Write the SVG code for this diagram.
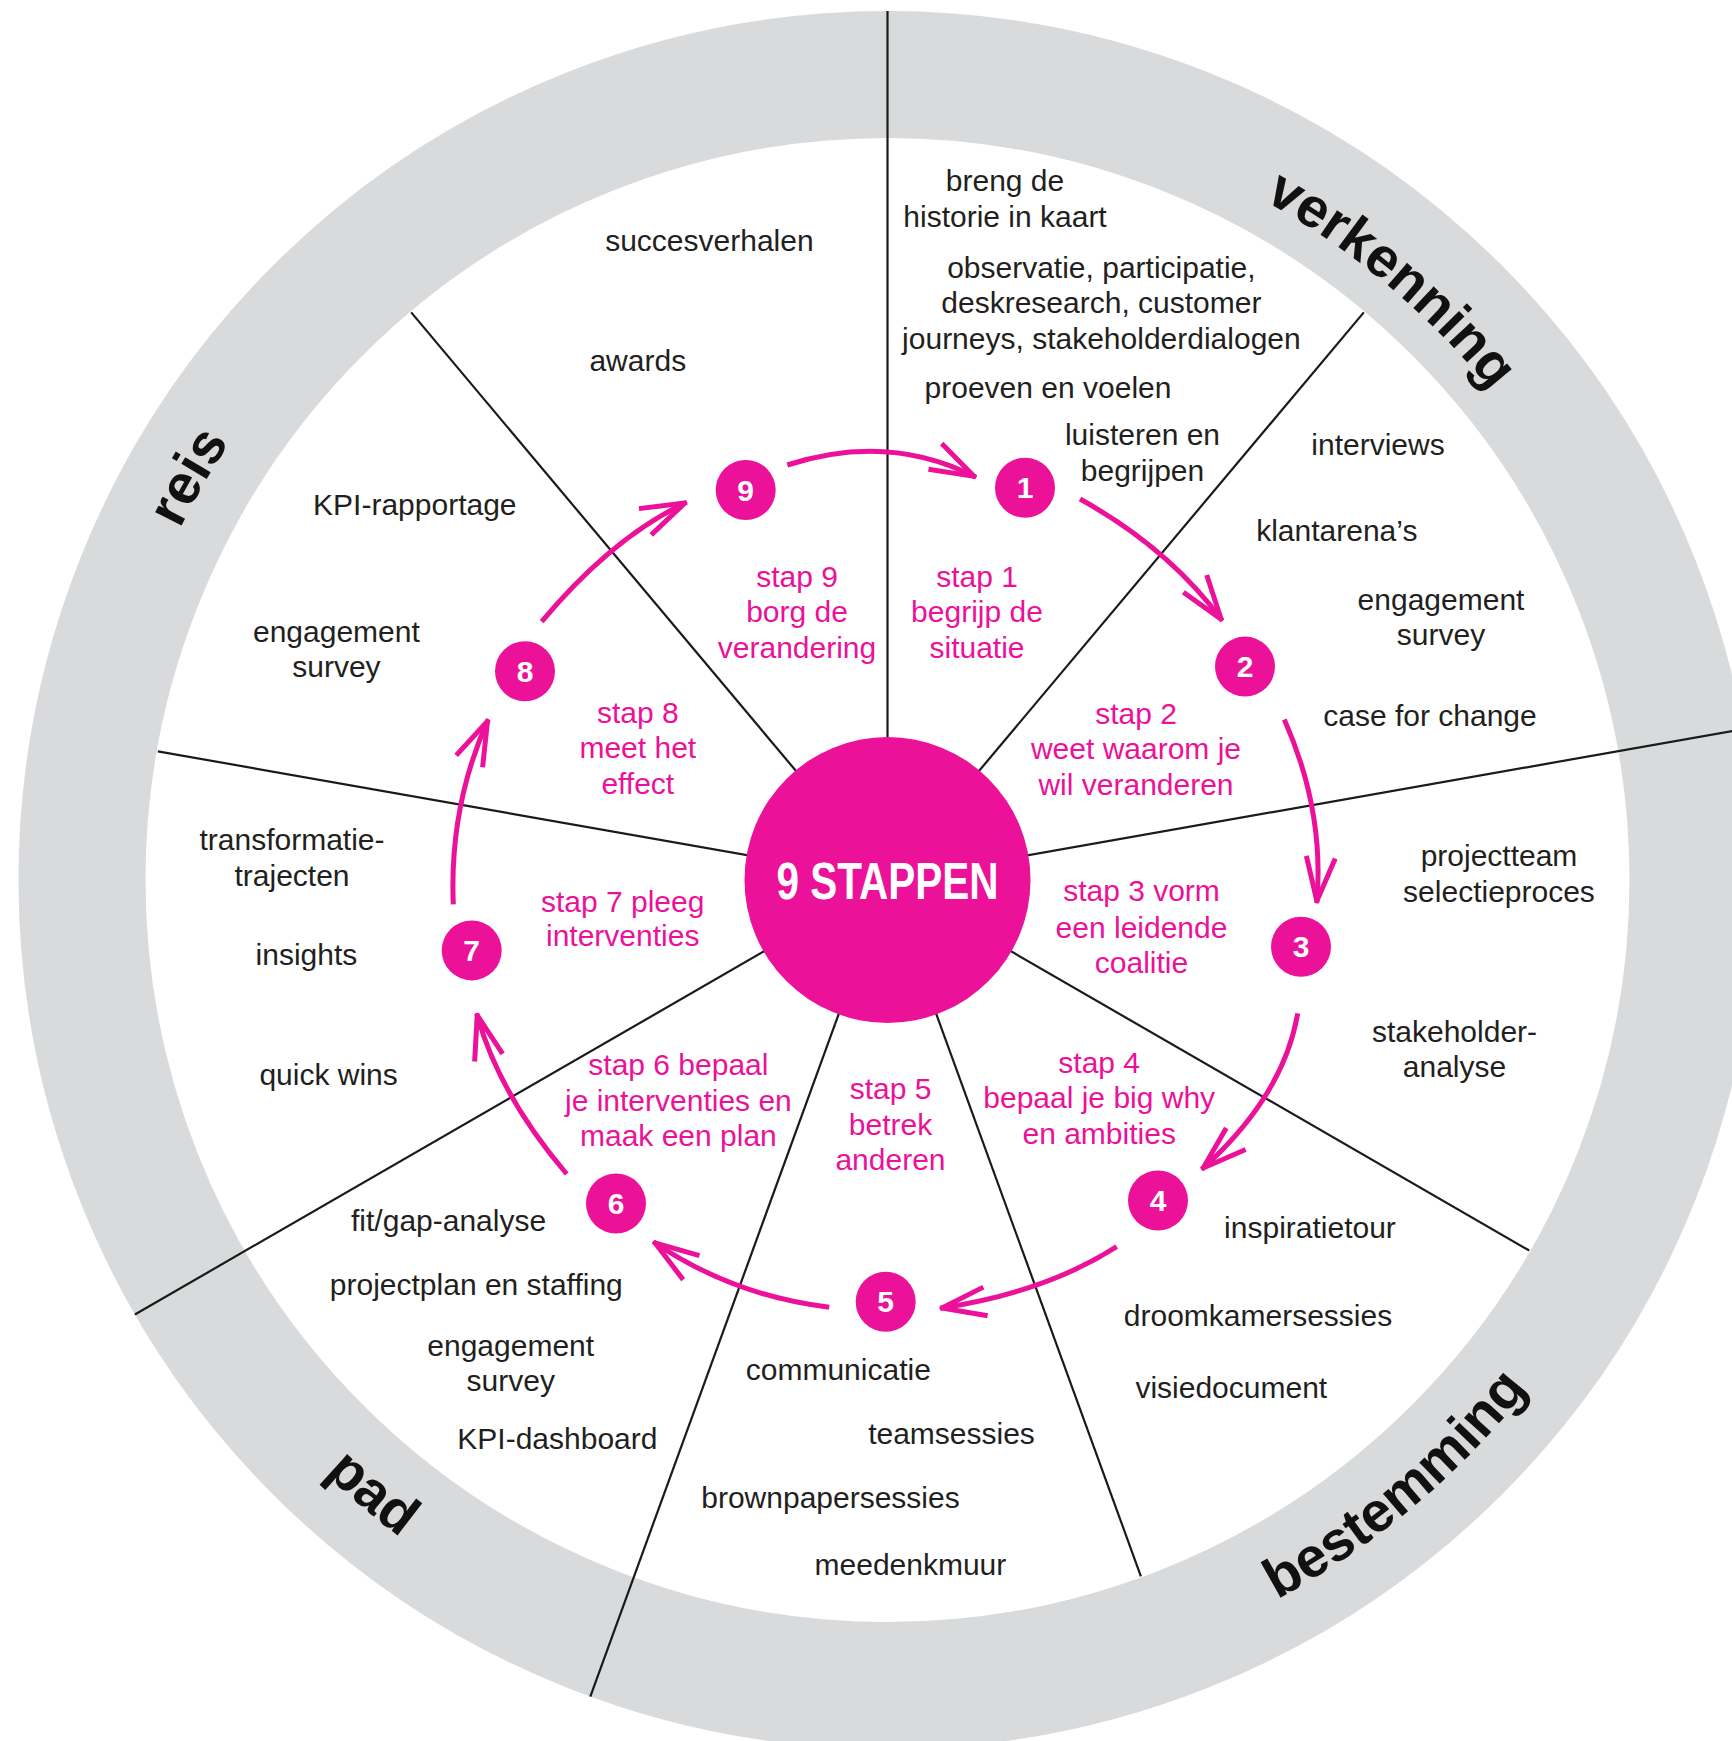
<svg xmlns="http://www.w3.org/2000/svg" width="1732" height="1741" viewBox="0 0 1732 1741">
<defs>
<style>
.t{font-family:"Liberation Sans",Arial,Helvetica,sans-serif;font-size:30px;fill:#231f20;text-anchor:middle}
.p{font-family:"Liberation Sans",Arial,Helvetica,sans-serif;font-size:30px;fill:#eb1199;text-anchor:middle}
.n{fill:#eb1199}
.d{font-family:"Liberation Sans",Arial,Helvetica,sans-serif;font-size:30px;font-weight:bold;fill:#ffffff;text-anchor:middle}
.rl{font-family:"Liberation Sans",Arial,Helvetica,sans-serif;font-size:56px;font-weight:bold;fill:#111111;text-anchor:middle}
.sp{stroke:#1a1a1a;stroke-width:2.2;fill:none}
.arr{fill:none;stroke:#eb1199;stroke-width:5;marker-end:url(#ah)}
</style>
<marker id="ah" markerUnits="userSpaceOnUse" orient="auto" markerWidth="60" markerHeight="40" viewBox="-52 -20 60 40" refX="0" refY="0" overflow="visible">
<path d="M-46,-14.5 L-2,0 L-46,14.5" fill="none" stroke="#eb1199" stroke-width="5" stroke-linejoin="round" stroke-linecap="butt"/>
</marker>
<path id="pv" d="M887.5,103 A777,777 0 0 1 1652.7,745.1"/>
<path id="pr" d="M109.5,1017.2 A790,790 0 0 1 617.3,137.6"/>
<path id="pb" d="M887.5,1698 A818,818 0 0 0 1693.1,1022"/>
<path id="pp" d="M81.9,1022 A818,818 0 0 0 887.5,1698"/>
</defs>

<rect x="0" y="0" width="1732" height="1741" fill="#ffffff"/>

<g id="ring">
<circle cx="887.5" cy="880" r="805.5" fill="none" stroke="#d9dadb" stroke-width="127"/>
</g>

<g id="spokes">
<line class="sp" x1="887.5" y1="880" x2="887.5" y2="11"/>
<line class="sp" x1="887.5" y1="880" x2="1363.8" y2="312.4"/>
<line class="sp" x1="887.5" y1="880" x2="1743.3" y2="729.1"/>
<line class="sp" x1="887.5" y1="880" x2="1529.2" y2="1250.5"/>
<line class="sp" x1="887.5" y1="880" x2="1140.9" y2="1576.3"/>
<line class="sp" x1="887.5" y1="880" x2="590.3" y2="1696.6"/>
<line class="sp" x1="887.5" y1="880" x2="134.9" y2="1314.5"/>
<line class="sp" x1="887.5" y1="880" x2="157.8" y2="751.3"/>
<line class="sp" x1="887.5" y1="880" x2="411.2" y2="312.4"/>
</g>

<g id="ring-labels">
<text class="rl"><textPath href="#pv" startOffset="50%">verkenning</textPath></text>
<text class="rl"><textPath href="#pr" startOffset="50%">reis</textPath></text>
<text class="rl"><textPath href="#pb" startOffset="50%">bestemming</textPath></text>
<text class="rl"><textPath href="#pp" startOffset="50%">pad</textPath></text>
</g>

<g id="center">
<circle class="n" cx="887.5" cy="880" r="143"/>
<text x="887.5" y="899.3" font-family="Liberation Sans, Arial, sans-serif" font-size="51" font-weight="bold" fill="#ffffff" text-anchor="middle" textLength="222" lengthAdjust="spacingAndGlyphs">9 STAPPEN</text>
</g>

<g id="activities">
<text class="t" x="1005" y="191">breng de</text>
<text class="t" x="1005" y="226.5">historie in kaart</text>
<text class="t" x="1101.4" y="277.6">observatie, participatie,</text>
<text class="t" x="1101.4" y="313">deskresearch, customer</text>
<text class="t" x="1101.4" y="348.7">journeys, stakeholderdialogen</text>
<text class="t" x="1048" y="397.5">proeven en voelen</text>
<text class="t" x="1142.5" y="445.3">luisteren en</text>
<text class="t" x="1142.5" y="480.8">begrijpen</text>
<text class="t" x="1378" y="455.3">interviews</text>
<text class="t" x="1336.8" y="540.8">klantarena’s</text>
<text class="t" x="1441" y="609.6">engagement</text>
<text class="t" x="1441" y="645">survey</text>
<text class="t" x="1430" y="726.2">case for change</text>
<text class="t" x="1499" y="866">projectteam</text>
<text class="t" x="1499" y="901.6">selectieproces</text>
<text class="t" x="1454.5" y="1041.6">stakeholder-</text>
<text class="t" x="1454.5" y="1077">analyse</text>
<text class="t" x="1310" y="1238">inspiratietour</text>
<text class="t" x="1258" y="1325.8">droomkamersessies</text>
<text class="t" x="1231.3" y="1398">visiedocument</text>
<text class="t" x="838.3" y="1380.2">communicatie</text>
<text class="t" x="951.5" y="1443.5">teamsessies</text>
<text class="t" x="830.5" y="1508">brownpapersessies</text>
<text class="t" x="910.4" y="1574.5">meedenkmuur</text>
<text class="t" x="448.6" y="1231.4">fit/gap-analyse</text>
<text class="t" x="476.3" y="1294.7">projectplan en staffing</text>
<text class="t" x="510.7" y="1355.8">engagement</text>
<text class="t" x="510.7" y="1391.3">survey</text>
<text class="t" x="557.4" y="1449">KPI-dashboard</text>
<text class="t" x="328.6" y="1085">quick wins</text>
<text class="t" x="306.4" y="965">insights</text>
<text class="t" x="292" y="849.5">transformatie-</text>
<text class="t" x="292" y="886">trajecten</text>
<text class="t" x="336.4" y="641.8">engagement</text>
<text class="t" x="336.4" y="677.4">survey</text>
<text class="t" x="414.8" y="514.7">KPI-rapportage</text>
<text class="t" x="637.8" y="371.2">awards</text>
<text class="t" x="709.4" y="250.7">succesverhalen</text>
</g>

<g id="connectors">
<path class="arr" d="M787.3,465 Q888.4,432.3 976,477.3"/>
<path class="arr" d="M1080,499 Q1168.9,548.2 1222.3,620.7"/>
<path class="arr" d="M1284.3,719.4 Q1324.9,811.2 1316.7,903"/>
<path class="arr" d="M1297.7,1013.3 Q1283.7,1095.9 1201.7,1169.4"/>
<path class="arr" d="M1116.7,1246.7 Q1045.1,1292.5 940,1308.3"/>
<path class="arr" d="M829.3,1307.3 Q732.1,1295.5 653.3,1241.7"/>
<path class="arr" d="M566.7,1174 Q498.3,1093.6 476.7,1013.3"/>
<path class="arr" d="M453.3,904.4 Q449.2,806.1 488.3,719.4"/>
<path class="arr" d="M541.7,621.6 Q612.4,537.1 686.7,502.2"/>
</g>

<g id="step1"><circle class="n" cx="1025" cy="487.7" r="30"/><text class="d" x="1025" y="498.4">1</text>
<text class="p" x="977" y="586.7">stap 1</text><text class="p" x="977" y="622.2">begrijp de</text><text class="p" x="977" y="657.7">situatie</text></g>
<g id="step2"><circle class="n" cx="1245" cy="666.6" r="30"/><text class="d" x="1245" y="677.3">2</text>
<text class="p" x="1136" y="724">stap 2</text><text class="p" x="1136" y="759.4">weet waarom je</text><text class="p" x="1136" y="795">wil veranderen</text></g>
<g id="step3"><circle class="n" cx="1301" cy="946.7" r="30"/><text class="d" x="1301" y="957.4">3</text>
<text class="p" x="1141.5" y="900.8">stap 3 vorm</text><text class="p" x="1141.5" y="937.5">een leidende</text><text class="p" x="1141.5" y="973.3">coalitie</text></g>
<g id="step4"><circle class="n" cx="1158" cy="1200.5" r="30"/><text class="d" x="1158" y="1211.2">4</text>
<text class="p" x="1099.2" y="1073">stap 4</text><text class="p" x="1099.2" y="1108.3">bepaal je big why</text><text class="p" x="1099.2" y="1144">en ambities</text></g>
<g id="step5"><circle class="n" cx="885.7" cy="1301.7" r="30"/><text class="d" x="885.7" y="1312.4">5</text>
<text class="p" x="890.5" y="1099">stap 5</text><text class="p" x="890.5" y="1134.5">betrek</text><text class="p" x="890.5" y="1170">anderen</text></g>
<g id="step6"><circle class="n" cx="616" cy="1203.5" r="30"/><text class="d" x="616" y="1214.2">6</text>
<text class="p" x="678.4" y="1075">stap 6 bepaal</text><text class="p" x="678.4" y="1111">je interventies en</text><text class="p" x="678.4" y="1146.4">maak een plan</text></g>
<g id="step7"><circle class="n" cx="471.7" cy="950.4" r="30"/><text class="d" x="471.7" y="961.1">7</text>
<text class="p" x="622.7" y="912.2">stap 7 pleeg</text><text class="p" x="622.7" y="945.8">interventies</text></g>
<g id="step8"><circle class="n" cx="525" cy="671.2" r="30"/><text class="d" x="525" y="681.9">8</text>
<text class="p" x="637.8" y="722.6">stap 8</text><text class="p" x="637.8" y="758.4">meet het</text><text class="p" x="637.8" y="794.3">effect</text></g>
<g id="step9"><circle class="n" cx="745.7" cy="490" r="30"/><text class="d" x="745.7" y="500.7">9</text>
<text class="p" x="797" y="586.7">stap 9</text><text class="p" x="797" y="622.2">borg de</text><text class="p" x="797" y="657.7">verandering</text></g>
</svg>
